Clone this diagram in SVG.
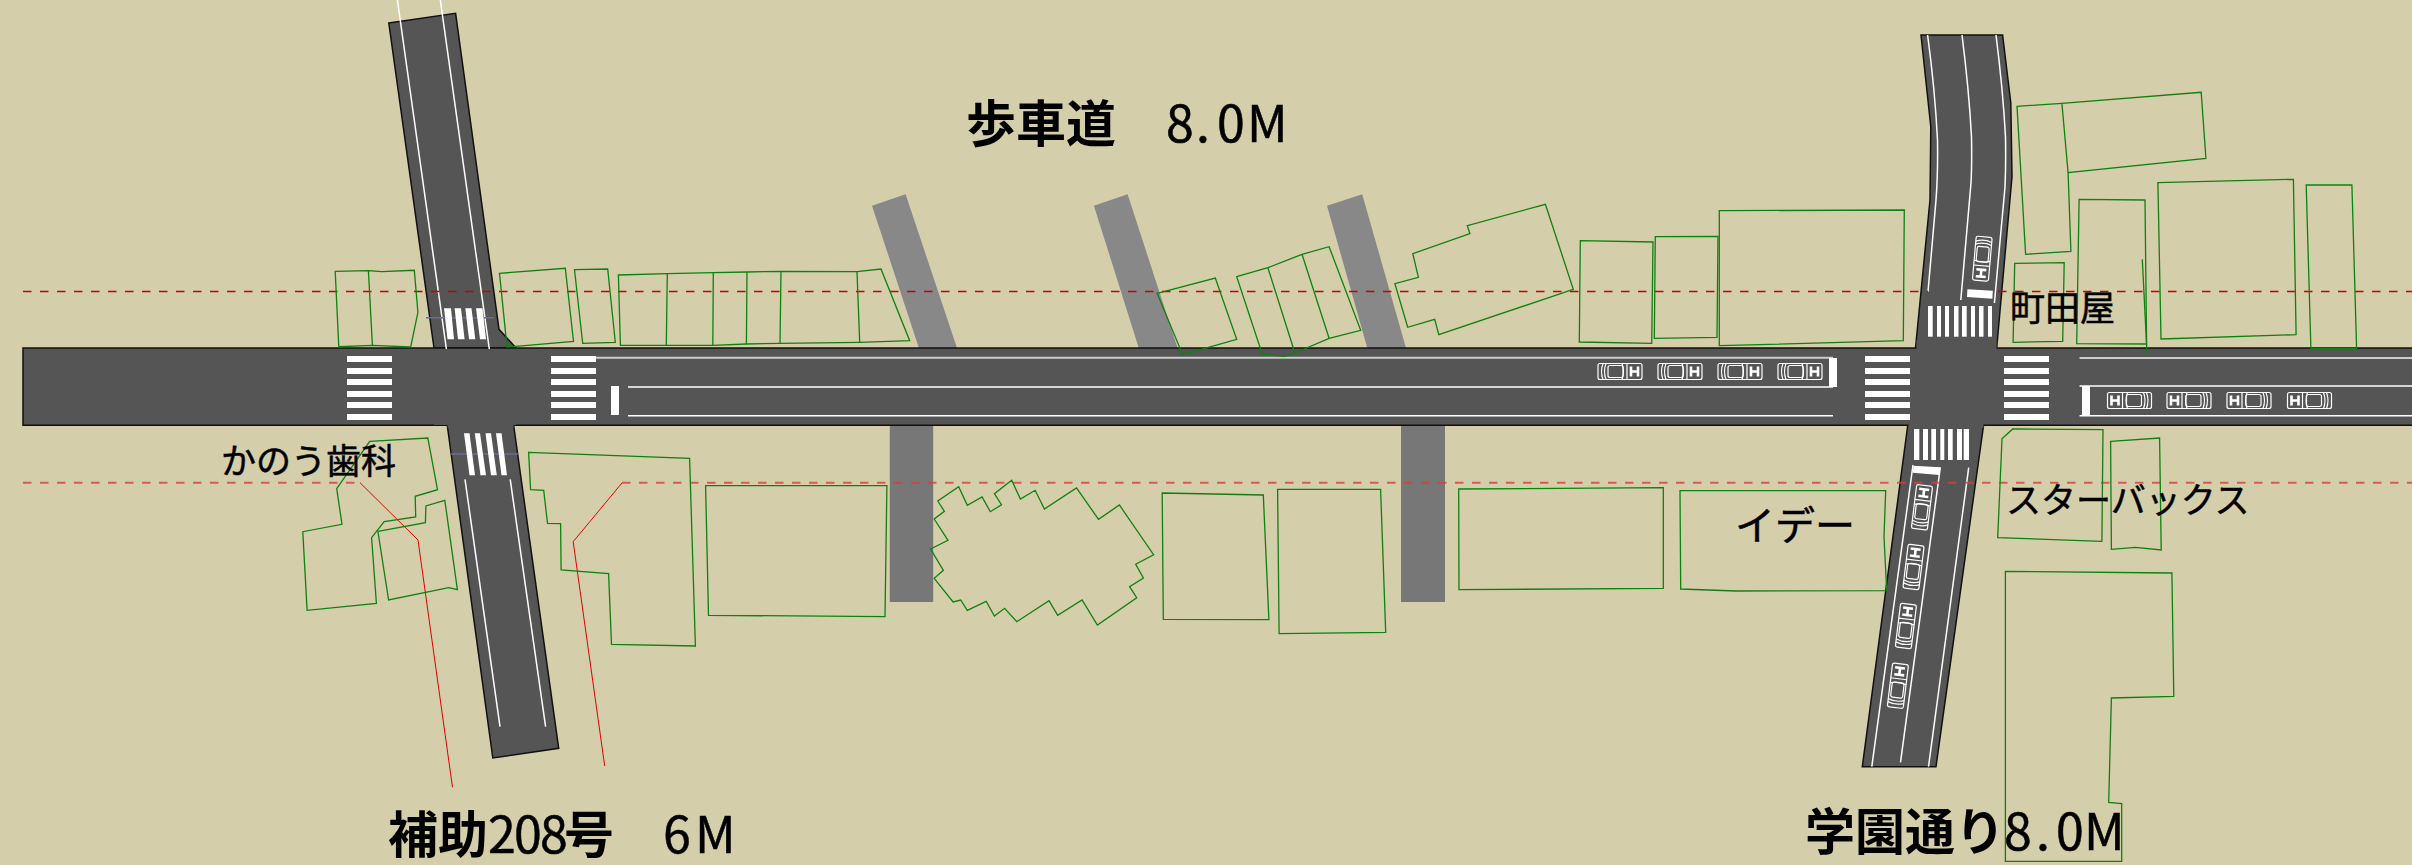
<svg xmlns="http://www.w3.org/2000/svg" width="2412" height="865" viewBox="0 0 2412 865">
<style>
.road{fill:#555;stroke:#111;stroke-width:1.5}
.w1{stroke:#fff;stroke-width:1.5;fill:none}
.w2{stroke:#ccc;stroke-width:2;fill:none}
.st{fill:#fff}
.walk1{fill:#888}
.walk2{fill:#777}
.b{fill:none;stroke:#108010;stroke-width:1.3}
.dash1{stroke:#c80000;stroke-width:1.3;stroke-dasharray:8.5 8.5;fill:none}
.dash2{stroke:#dc3c3c;stroke-width:2;stroke-dasharray:8.5 8.5;fill:none;opacity:.8}
.blue{stroke:#6a6aa8;stroke-width:1.5}
.red{stroke:#e00000;stroke-width:1;fill:none}
text{font-family:"Noto Sans CJK JP","Noto Sans",sans-serif;fill:#000}
.big{font-size:50px;font-weight:700}
.num{font-size:50px;font-weight:400;stroke:#000;stroke-width:.5}
.lab{font-size:35px;font-weight:400;stroke:#000;stroke-width:.5}
</style>
<defs>
<g id="car" fill="none" stroke="#fff" stroke-width="1.2">
<rect x="-22" y="-8" width="44" height="16" rx="2"/>
<path d="M-17-8Q-20 0-17 8M-14-8Q-17 0-14 8M7-8V8M2-8Q5 0 2 8"/>
<rect x="-12" y="-6" width="15" height="12" rx="2"/>
<path d="M11-5V5M18-5V5M11 0H18" stroke-width="2.6"/>
</g>
<g id="hstripes" class="st">
<rect x="0" y="356" width="45" height="6"/><rect x="0" y="368" width="45" height="6"/><rect x="0" y="379" width="45" height="6"/><rect x="0" y="391" width="45" height="6"/><rect x="0" y="402" width="45" height="6"/><rect x="0" y="414" width="45" height="6"/>
</g>
</defs>
<rect id="ground" width="2412" height="865" fill="#d4ceab"/>

<g id="sidewalks">
<polygon class="walk1" points="872,205.7 905.6,194.3 957,348 918.9,348"/>
<polygon class="walk1" points="1093.9,205.7 1127.6,194.3 1177.6,348 1138.8,348"/>
<polygon class="walk1" points="1327,205.7 1362.2,194.3 1406,348 1367.3,348"/>
<rect class="walk2" x="889.8" y="425" width="43.4" height="177"/>
<rect class="walk2" x="1401" y="425" width="44" height="177"/>
</g>

<g id="roads">
<polygon id="road-north" class="road" points="388.8,23 455.6,13.3 499,329.3 516,348 434,348"/>
<polygon id="road-southwest" class="road" points="447.2,425 513.6,425 558.7,748.3 492.8,758"/>
<polygon id="road-northeast" class="road" points="1921,35 2002.6,35 2010.8,103 2012,176.7 1996.7,348 1915.5,348 1930,200 1930.8,126.7"/>
<polygon id="road-southeast" class="road" points="1907.8,425 1983.6,425 1936,766.7 1862.3,766.7"/>
<path id="road-main" class="road" d="M2412 348H23V425.3H2412"/>
<rect x="434" y="349" width="82" height="76" fill="#555"/>
<rect x="447.5" y="420" width="66" height="8" fill="#555"/>
<rect x="1916.5" y="340" width="80" height="10" fill="#555"/>
<rect x="1908.5" y="423" width="75" height="5" fill="#555"/>
</g>

<g id="connectors">
<path class="w1" d="M397.4 0L446.4 349M440.3 0L489.3 349"/>
<path class="w1" d="M465 479.3L500 726.7M510.2 479.3L545.6 726.7"/>
<path class="w2" d="M596 357.7H1833"/>
<path class="w1" d="M628 387H1833M628 415.7H1833"/>
<path class="w2" d="M2079.5 358H2412"/>
<path class="w1" d="M2079.5 386H2412M2079.5 415.7H2412"/>
<path class="w1" d="M1927.6 35Q1935 90 1937.5 140Q1938 175 1936 200L1928 291.7"/>
<path class="w1" d="M1962 35Q1969 90 1971.5 137Q1972 165 1971 183L1960.8 300"/>
<path class="w1" d="M1996 35Q2003 90 2005.5 137Q2006 165 2005 187L1994.4 303"/>
<path class="w1" d="M1913 465L1871.8 766.7M1940.3 467.3L1900.5 762.3M1968.7 467.7L1928.5 766.7"/>
<line class="blue" x1="426" y1="317.7" x2="494" y2="317.7"/>
<line class="blue" x1="450.6" y1="454" x2="518.5" y2="454"/>
<path class="red" d="M360 482.7L418 540L452.5 787.3"/>
<path class="red" d="M622.2 482.7L573.2 541.7L604.7 766"/>
</g>

<g id="reference-lines">
<line class="dash1" x1="23" y1="291.5" x2="1928" y2="291.5"/>
<line class="dash1" x1="1998" y1="291.5" x2="2412" y2="291.5"/>
<line class="dash2" x1="23" y1="482.7" x2="360" y2="482.7"/>
<line class="dash2" x1="622" y1="482.7" x2="2412" y2="482.7"/>
</g>

<g id="markings">
<use href="#hstripes" x="347"/>
<use href="#hstripes" x="551"/>
<use href="#hstripes" x="1865"/>
<use href="#hstripes" x="2004"/>
<rect class="st" x="611" y="386" width="8" height="29"/>
<rect class="st" x="1829" y="358" width="8" height="29"/>
<rect class="st" x="2082" y="386" width="8" height="30"/>
<polygon class="st" points="444,308.3 451,308.3 454,339.3 447.5,339.3"/>
<polygon class="st" points="454.6,308.3 461,308.3 464.6,339.3 458,339.3"/>
<polygon class="st" points="465.3,308.3 471.5,308.3 475.3,339.3 469,339.3"/>
<polygon class="st" points="476,308.3 482.5,308.3 486,339.3 480,339.3"/>
<polygon class="st" points="464,433.3 469.5,433.3 475,475.3 469.5,475.3"/>
<polygon class="st" points="474.8,433.3 480,433.3 486,475.3 480.5,475.3"/>
<polygon class="st" points="485.5,433.3 491,433.3 496.8,475.3 491,475.3"/>
<polygon class="st" points="496,433.3 501.5,433.3 507,475.3 501.5,475.3"/>
<g class="st">
<rect x="1928" y="306" width="4.7" height="30.7"/><rect x="1937" y="306" width="4" height="30.7"/><rect x="1945" y="306" width="4" height="30.7"/><rect x="1954" y="306" width="4.5" height="30.7"/><rect x="1962" y="306" width="4.7" height="30.7"/><rect x="1971" y="306" width="4" height="30.7"/><rect x="1979" y="306" width="4.5" height="30.7"/><rect x="1988" y="306" width="4" height="30.7"/>
<rect x="1914" y="429" width="5.3" height="31"/><rect x="1923" y="429" width="5" height="31"/><rect x="1931.3" y="429" width="4.7" height="31"/><rect x="1940.3" y="429" width="4" height="31"/><rect x="1948" y="429" width="4.7" height="31"/><rect x="1957" y="429" width="5" height="31"/><rect x="1963.7" y="429" width="5.3" height="31"/>
</g>
<polygon class="st" points="1967.4,289.3 1992.8,290.7 1992.4,298.7 1967,297"/>
<polygon class="st" points="1913.5,465.7 1940.3,467.3 1939.5,475 1912.8,472.7"/>
</g>

<g id="cars">
<use href="#car" transform="translate(1620,371.5)"/>
<use href="#car" transform="translate(1680,371.5)"/>
<use href="#car" transform="translate(1740,371.5)"/>
<use href="#car" transform="translate(1800,371.5)"/>
<use href="#car" transform="translate(2129.5,400.5) rotate(180)"/>
<use href="#car" transform="translate(2189,400.5) rotate(180)"/>
<use href="#car" transform="translate(2249,400.5) rotate(180)"/>
<use href="#car" transform="translate(2309.5,400.5) rotate(180)"/>
<use href="#car" transform="translate(1982.3,258.7) rotate(95)"/>
<use href="#car" transform="translate(1922,507.3) rotate(-83)"/>
<use href="#car" transform="translate(1913.5,567) rotate(-83)"/>
<use href="#car" transform="translate(1905.9,626) rotate(-83)"/>
<use href="#car" transform="translate(1897.9,685.7) rotate(-83)"/>
</g>

<g id="buildings">
<g id="b01"><polygon class="b" points="335.2,271.3 368.4,270.7 381.6,271.7 414.3,270.3 417.9,312.3 410.7,347 372.4,345.3 338.8,346.7"/><line class="b" x1="368.4" y1="270.7" x2="372.4" y2="345.3"/></g>
<polygon id="b02" class="b" points="499.5,273.3 565.3,268.3 573.5,341.3 516,346.3 507,347"/>
<polygon id="b03" class="b" points="574.5,269.7 607.7,269 615.3,342.3 582.7,343.3"/>
<g id="b04"><polygon class="b" points="618.4,275 667.3,273.7 713.3,272.7 747,272 781,271.3 857,271.7 881,269 909.7,340.7 859.7,342.3 780,343.3 746.4,344 712.8,345.3 666.3,345.3 620.4,345.3"/><path class="b" d="M667.3 273.7L666.3 345.3M713.3 272.7L712.8 345.3M747 272L746.4 344M781 271.3L780 343.3M857 271.7L859.7 342.3"/></g>
<polygon id="b05" class="b" points="1157.1,293.3 1215.3,278 1236.7,339.3 1182.7,354.7"/>
<g id="b06"><polygon class="b" points="1236.7,276.7 1267.9,267.7 1302,254.3 1329.1,246.7 1360.7,330.3 1329.1,338.3 1294.9,353 1284.7,356.3 1262.2,354"/><path class="b" d="M1267.9 267.7L1294.9 353M1302 254.3L1329.1 338.3"/></g>
<polygon id="b07" class="b" points="1545.4,204.3 1573.3,289.3 1438.8,334.7 1434.7,319.3 1407.7,327.3 1394.9,283.7 1418.4,277.3 1412.8,253.7 1469.9,233.7 1467.3,225.7"/>
<polygon id="b08" class="b" points="1580.3,240.7 1653,242 1651.7,343.3 1579.3,342"/>
<polygon id="b09" class="b" points="1655.3,236.7 1718,236.3 1717,337.3 1654.3,338.3"/>
<polygon id="b10" class="b" points="1719.3,210.7 1904.3,210 1903.3,340.7 1719.3,345.7"/>
<g id="b11"><polygon class="b" points="2017,106.3 2061.9,103.3 2201.2,92.3 2205.9,158.3 2068.1,172.7 2070.9,251.3 2025.6,254.3"/><line class="b" x1="2061.9" y1="103.3" x2="2068.1" y2="172.7"/></g>
<polygon id="b12" class="b" points="2014.7,263.3 2064.2,262.7 2062.7,341.3 2013.1,342.3"/>
<g id="b13"><polygon class="b" points="2079.1,199.3 2145,200 2146.6,344 2076.7,343.7"/><line class="b" x1="2142.3" y1="259.3" x2="2147" y2="353.3"/></g>
<polygon id="b14" class="b" points="2157.9,182.7 2293.4,179.3 2296.1,334.7 2161,339"/>
<polygon id="b15" class="b" points="2306.2,185 2351.9,185 2356.6,348.7 2310.9,348.7"/>
<polygon id="b16" class="b" points="369.7,441.3 427.8,438 437.5,489.7 415.2,496.3 415.7,517 384.2,521.7 371.6,537.7 376.4,603.3 307.1,610.3 302.8,531.7 342,524.3 336.7,488.7"/>
<polygon id="b17" class="b" points="377.9,531.3 425.4,522.7 425.9,506 444.8,500.3 457.4,589.7 448.7,587.7 388.6,600"/>
<polygon id="b18" class="b" points="528.6,452.3 689.6,458.3 695.4,646 611.5,644.3 608.6,573.7 561.1,570 560.6,523.7 547.5,523.3 543.7,490.3 530.6,489.7"/>
<polygon id="b19" class="b" points="705.6,485.7 886.9,485.7 885,616.7 708.5,615.3"/>
<polygon id="b20" class="b" points="1011.7,480.3 1020.4,499 1035.2,490.3 1044.4,509 1076.5,488 1098.5,519.3 1119.4,505 1153.6,554.7 1135.7,564.3 1143.4,578 1129.6,586.7 1136.7,597.7 1097.4,625 1082.1,600 1057.7,615.3 1049,600.7 1016.8,621.7 1004.6,608.3 994.4,616 986.2,601.3 967.3,610.3 960.7,600 953.1,602 934.2,578.3 943.4,570.3 930.6,549 948,540.3 934.2,519 944.4,511.3 937.8,501 958.7,486.7 967.3,505.3 982.1,497 990.3,511.7 1001.5,504.7 994.4,493.7"/>
<polygon id="b21" class="b" points="1162.2,493 1263.3,495 1268.9,619.7 1163.3,619.3"/>
<polygon id="b22" class="b" points="1277.6,489.3 1380.6,489.3 1385.7,632.3 1279.1,633.7"/>
<polygon id="b23" class="b" points="1458.7,489 1663.3,487.7 1663.3,588.3 1459,589.7"/>
<polygon id="b24" class="b" points="1680,490.7 1885.7,490.7 1884,536.7 1886.7,590.7 1736.7,591 1680.7,589"/>
<polygon id="b25" class="b" points="2012.7,429 2103,429.7 2101.9,541.3 1997.7,537.7 2002,438.7"/>
<polygon id="b26" class="b" points="2110.6,441.3 2159.6,438 2161.2,550 2135.5,547.3 2111.4,549.3"/>
<polygon id="b27" class="b" points="2005.4,571.3 2171.9,573 2173.8,696.3 2111.4,698 2108.7,802.3 2121.7,803.7 2121.7,861.3 2005.4,861.3"/>
</g>

<g id="labels">
<text class="big" x="966" y="142">歩車道<tspan class="num" x="1166 1196 1217 1247">8.0M</tspan></text>
<text class="big" x="388" y="853">補助<tspan class="num" x="488 514 540">208</tspan><tspan x="564">号</tspan><tspan class="num" x="663 695">6M</tspan></text>
<text class="big" x="1805" y="850">学園通り<tspan class="num" x="2004 2036 2056 2084">8.0M</tspan></text>
<text class="lab" x="221" y="474">かのう歯科</text>
<text class="lab" x="2010" y="321">町田屋</text>
<text class="lab" x="1735" y="540" style="font-size:40px">イデー</text>
<text class="lab" x="2006" y="513">スターバックス</text>
</g>
</svg>
